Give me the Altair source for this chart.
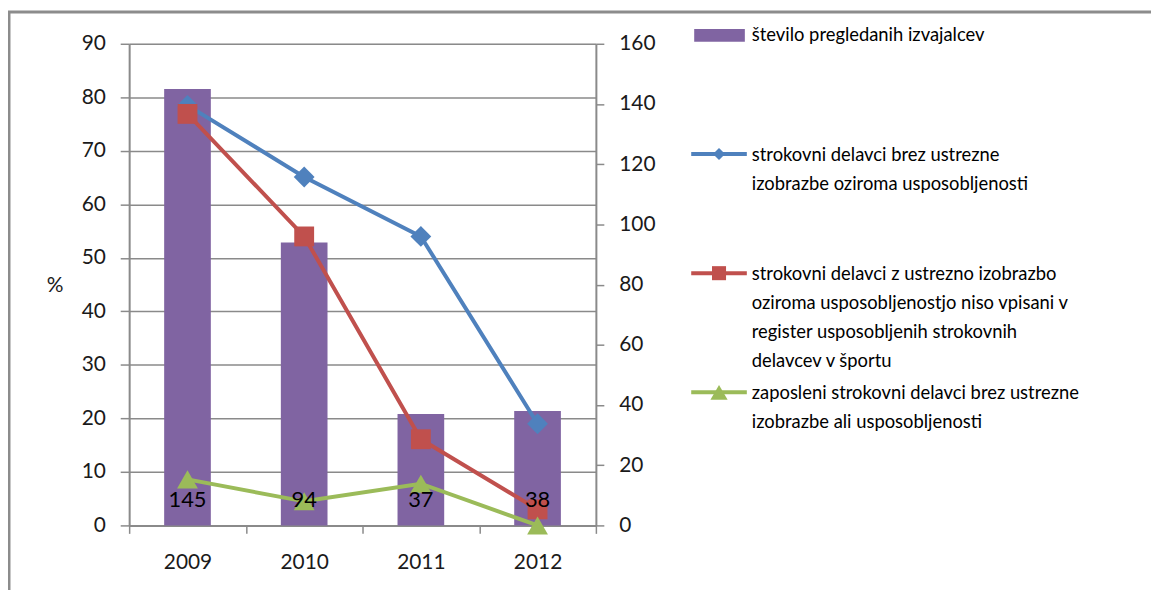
import altair as alt
import pandas as pd

# ---- data ----
years = ["2009", "2010", "2011", "2012"]
izvajalci = [145, 94, 37, 38]                 # right axis (bars)
brez_izobrazbe = [78.5, 65.1, 54.0, 19.0]     # blue, left axis %
nevpisani = [76.9, 54.0, 16.1, 3.0]           # red, left axis %
zaposleni_brez = [8.6, 4.5, 7.8, 0.0]         # green, left axis %

series_names = [
    "število pregledanih izvajalcev",
    "strokovni delavci brez ustrezne\nizobrazbe oziroma usposobljenosti",
    "strokovni delavci z ustrezno izobrazbo\noziroma usposobljenostjo niso vpisani v\nregister usposobljenih strokovnih\ndelavcev v športu",
    "zaposleni strokovni delavci brez ustrezne\nizobrazbe ali usposobljenosti",
]
left_ticks = [0, 10, 20, 30, 40, 50, 60, 70, 80, 90]
right_ticks = [0, 20, 40, 60, 80, 100, 120, 140, 160]

PURPLE = "#8064A2"
BLUE = "#4F81BD"
RED = "#C0504D"
GREEN = "#9BBB59"
GRID = "#8a8a8a"
FONT = "Lato"

W, H = 470, 485

bars_df = pd.DataFrame({"leto": years, "n": izvajalci, "base": [0] * 4})
lines_df = pd.DataFrame({
    "leto": years * 3,
    "serija": [series_names[1]] * 4 + [series_names[2]] * 4 + [series_names[3]] * 4,
    "pct": brez_izobrazbe + nevpisani + zaposleni_brez,
})
one = pd.DataFrame({"k": [0]})

x_enc = alt.X(
    "leto:N",
    sort=years,
    title=None,
    scale=alt.Scale(paddingInner=0, paddingOuter=0),
    axis=alt.Axis(
        labelAngle=0, tickBand="extent", tickSize=8, tickColor=GRID, tickWidth=1.5,
        domainColor=GRID, domainWidth=2, labelFont=FONT, labelFontSize=21,
        labelColor="#1a1a1a", labelPadding=18, grid=False,
    ),
)

frame = alt.Chart(one).mark_rect(fillOpacity=0, stroke="#8c8c8c", strokeWidth=3).encode(
    x=alt.value(-121), x2=alt.value(1200), y=alt.value(-32), y2=alt.value(800)
)

bars = alt.Chart(bars_df).mark_bar(color=PURPLE, size=47).encode(
    x=x_enc,
    y=alt.Y(
        "n:Q",
        scale=alt.Scale(domain=[0, 160], nice=False),
        axis=alt.Axis(
            orient="right", values=right_ticks, title=None, grid=False,
            tickSize=8, tickColor=GRID, tickWidth=1.5, domainColor=GRID, domainWidth=2,
            labelFont=FONT, labelFontSize=21, labelColor="#1a1a1a", labelPadding=15,
        ),
    ),
)

left_axis = alt.Axis(
    orient="left", values=left_ticks, title="%", titleAngle=0, titleFont=FONT,
    titleFontSize=21, titleFontWeight="normal", titleColor="#1a1a1a",
    titleX=-75, titleY=243, titleAlign="center", titleBaseline="middle",
    grid=True, gridColor=GRID, gridWidth=1.5,
    tickSize=9, tickColor=GRID, tickWidth=1.5, domainColor=GRID, domainWidth=2,
    labelFont=FONT, labelFontSize=21, labelColor="#1a1a1a", labelPadding=15,
)
y_left = alt.Y("pct:Q", scale=alt.Scale(domain=[0, 90], nice=False), axis=left_axis)


def series_line(name, color, shape, size):
    return alt.Chart(lines_df).transform_filter(
        alt.datum.serija == name
    ).mark_line(
        color=color, strokeWidth=4,
        point=alt.OverlayMarkDef(shape=shape, size=size, filled=True, color=color, opacity=1),
    ).encode(x=x_enc, y=y_left)


lines = alt.layer(
    series_line(series_names[1], BLUE, "diamond", 440),
    series_line(series_names[2], RED, "square", 400),
    series_line(series_names[3], GREEN, "triangle-up", 440),
)

bar_text = alt.Chart(bars_df).mark_text(
    font=FONT, fontSize=22, color="#000000", dy=-26, baseline="middle"
).encode(
    x=x_enc,
    y=alt.Y("base:Q", scale=alt.Scale(domain=[0, 160], nice=False), axis=None),
    text="n:Q",
)

# ---- legend (drawn by hand, like the Excel legend) ----
LX0, LX1, LXM, LTX = 566, 622, 594, 627
LH = 29
LFS = 18.5


def legend_text(label, y_first):
    return alt.Chart(one).mark_text(
        font=FONT, fontSize=LFS, color="#000000", align="left", baseline="middle",
        lineBreak="\n", lineHeight=LH,
    ).encode(x=alt.value(LTX), y=alt.value(y_first), text=alt.value(label))


leg = [
    alt.Chart(one).mark_rect(color=PURPLE).encode(
        x=alt.value(569), x2=alt.value(620), y=alt.value(-15), y2=alt.value(-2)),
    legend_text(series_names[0], -9),
]
for name, color, shape, size, yy in [
    (series_names[1], BLUE, "diamond", 150, 111),
    (series_names[2], RED, "square", 200, 231),
    (series_names[3], GREEN, "triangle-up", 300, 351),
]:
    leg.append(alt.Chart(one).mark_rule(color=color, strokeWidth=4).encode(
        x=alt.value(LX0), x2=alt.value(LX1), y=alt.value(yy)))
    leg.append(alt.Chart(one).mark_point(shape=shape, size=size, filled=True, color=color, opacity=1).encode(
        x=alt.value(LXM), y=alt.value(yy)))
    leg.append(legend_text(name, yy + 1))

chart = alt.layer(frame, bars, lines, bar_text, *leg).resolve_scale(
    y="independent"
).properties(
    width=W, height=H,
    autosize=alt.AutoSizeParams(type="none"),
    padding={"left": 122, "top": 34, "right": 559, "bottom": 63},
).configure_view(stroke=None).configure(background="white")

chart.save("out.html", embed_options={"renderer": "svg", "actions": False})
